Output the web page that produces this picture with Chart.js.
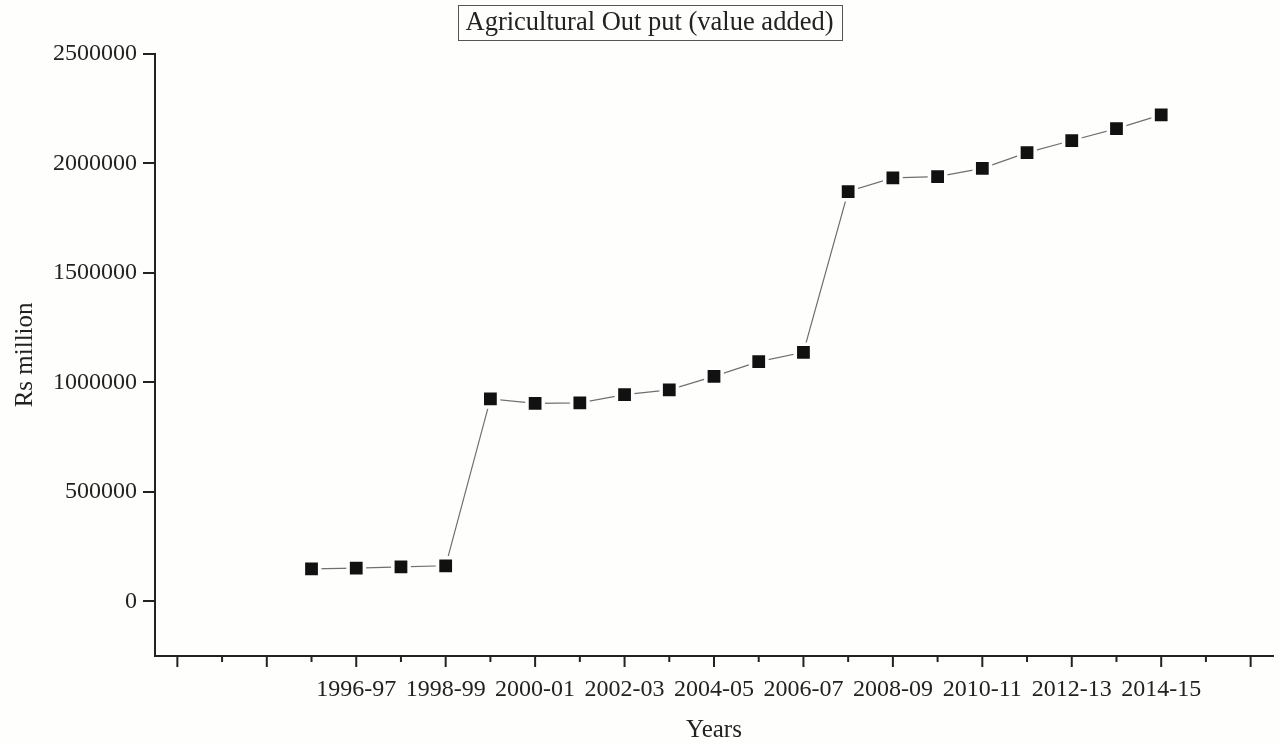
<!DOCTYPE html>
<html>
<head>
<meta charset="utf-8">
<script src="https://cdn.jsdelivr.net/npm/chart.js@4/dist/chart.umd.min.js"></script>
<style>
  html, body { margin: 0; padding: 0; background: #fefefc; }
  #wrap { width: 1280px; height: 745px; }
</style>
</head>
<body>
<div id="wrap"><canvas id="agriChart"></canvas></div>
<script>
// start year of each fiscal year (1995 -> 1995-96)
const years = [1995, 1996, 1997, 1998, 1999, 2000, 2001, 2002, 2003, 2004,
  2005, 2006, 2007, 2008, 2009, 2010, 2011, 2012, 2013, 2014]

// agricultural value added, Rs million
const outputValues = [148000, 151000, 157000, 162000, 924000, 904000, 906000, 944000, 965000, 1027000,
  1094000, 1137000, 1871000, 1933000, 1939000, 1977000, 2049000, 2104000, 2158000, 2221000]

const yTickValues = [0, 500000, 1000000, 1500000, 2000000, 2500000]
const xTickYears = [1992, 1993, 1994, 1995, 1996, 1997, 1998, 1999, 2000, 2001, 2002, 2003,
  2004, 2005, 2006, 2007, 2008, 2009, 2010, 2011, 2012, 2013, 2014, 2015, 2016]
const labelledYears = [1996, 1998, 2000, 2002, 2004, 2006, 2008, 2010, 2012, 2014]

const fiscalLabel = (y) => `${y}-${String((y + 1) % 100).padStart(2, '0')}`

const serif = 'Liberation Serif'
const inkColor = '#222'

// draws major / minor tick marks under the x axis
const xTickMarks = {
  id: 'xTickMarks',
  afterDraw(chart) {
    const { ctx } = chart
    const xs = chart.scales.x
    ctx.save()
    ctx.strokeStyle = inkColor
    ctx.lineWidth = 2
    xs.ticks.forEach(t => {
      const px = xs.getPixelForValue(t.value)
      const len = t.value % 2 === 0 ? 11 : 6
      ctx.beginPath()
      ctx.moveTo(px, xs.top)
      ctx.lineTo(px, xs.top + len)
      ctx.stroke()
    })
    ctx.restore()
  }
}

// nudge the title a little right, then box it
const titleBox = {
  id: 'titleBox',
  afterLayout(chart) {
    chart.titleBlock.left += 26
  },
  afterDraw(chart) {
    const { ctx } = chart
    const tb = chart.titleBlock
    const opts = chart.options.plugins.title
    ctx.save()
    ctx.font = `${opts.font.size}px "${serif}"`
    const w = ctx.measureText(opts.text).width
    const cx = (tb.left + tb.right) / 2
    ctx.strokeStyle = '#555'
    ctx.lineWidth = 1
    ctx.strokeRect(Math.round(cx - w / 2 - 8) + 0.5, 5.5, Math.round(w + 16), 35)
    ctx.restore()
  }
}

const chartData = {
  datasets: [{
    label: 'Agricultural Out put',
    data: years.map((y, i) => ({ x: y, y: outputValues[i] })),
    borderColor: '#707070',
    borderWidth: 1.2,
    pointStyle: 'rect',
    pointRadius: 11.5,
    pointHoverRadius: 11.5,
    pointBackgroundColor: '#111',
    pointBorderColor: '#fefefc',
    pointBorderWidth: 3.5,
    tension: 0,
    fill: false
  }]
}

const config = {
  type: 'line',
  data: chartData,
  plugins: [xTickMarks, titleBox],
  options: {
    responsive: true,
    maintainAspectRatio: false,
    animation: false,
    layout: { autoPadding: false, padding: { left: 0, right: 7, top: 0, bottom: 0 } },
    plugins: {
      legend: { display: false },
      tooltip: { enabled: false },
      title: {
        display: true,
        text: 'Agricultural Out put (value added)',
        color: inkColor,
        font: { family: serif, size: 26.5, weight: 'normal' },
        padding: { top: 7, bottom: 15 }
      }
    },
    scales: {
      x: {
        type: 'linear',
        min: 1991.5,
        max: 2016.5,
        afterBuildTicks: (scale) => { scale.ticks = xTickYears.map(v => ({ value: v })) },
        afterFit: (scale) => { scale.height = 89 },
        border: { display: true, color: inkColor, width: 2 },
        grid: { display: false, drawTicks: false },
        ticks: {
          color: inkColor,
          font: { family: serif, size: 24 },
          padding: 19,
          maxRotation: 0,
          autoSkip: false,
          callback: (v) => labelledYears.includes(v) ? fiscalLabel(v) : ''
        },
        title: {
          display: true,
          text: 'Years',
          color: inkColor,
          font: { family: serif, size: 25 },
          padding: { top: 0, bottom: 0 }
        }
      },
      y: {
        min: -250000,
        max: 2500000,
        afterBuildTicks: (scale) => { scale.ticks = yTickValues.map(v => ({ value: v })) },
        afterFit: (scale) => { scale.width = 155 },
        border: { display: true, color: inkColor, width: 2 },
        grid: { display: true, drawOnChartArea: false, drawTicks: true, tickLength: 12, tickColor: inkColor, lineWidth: 2 },
        ticks: {
          color: inkColor,
          font: { family: serif, size: 24 },
          padding: 6,
          callback: (v) => String(v)
        },
        title: {
          display: true,
          text: 'Rs million',
          color: inkColor,
          font: { family: serif, size: 25 },
          padding: { top: 10, bottom: 0 }
        }
      }
    }
  }
}

const init = () => {
  new Chart(document.getElementById('agriChart'), config)
}

init()
</script>
</body>
</html>
